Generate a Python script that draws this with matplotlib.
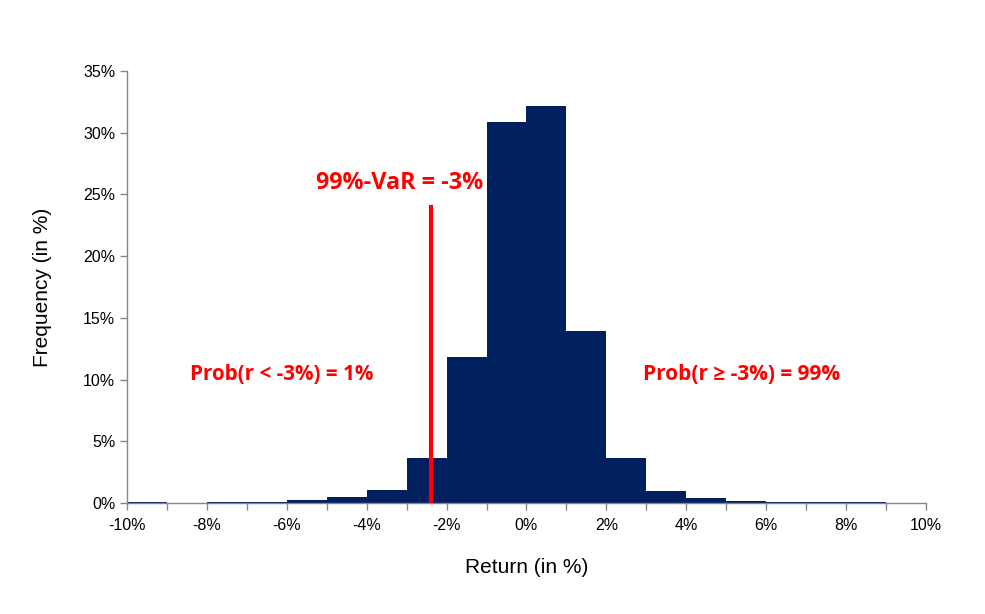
import matplotlib.pyplot as plt
from matplotlib.ticker import FuncFormatter, MultipleLocator

# histogram of returns, bins of 1 percentage point
bin_edges = list(range(-10, 11))
freq = [0.05, 0.0, 0.05, 0.05, 0.25, 0.5, 1.05, 3.65, 11.8, 30.9,
        32.2, 13.9, 3.65, 0.97, 0.4, 0.15, 0.05, 0.05, 0.05, 0.02]
var_x = -2.4
var_top = 24.0

navy = '#002060'
red = '#FF0000'
gray = '#868686'

fig = plt.figure(figsize=(9.85, 6.14), dpi=100)
ax = fig.add_axes([0.1289, 0.1808, 0.8112, 0.7036])

lefts = bin_edges[:-1]
colors = [navy] * (len(freq) - 1) + ['#BFBFBF']
ax.bar(lefts, freq, width=1.0, align='edge', color=colors, linewidth=0)

ax.plot([var_x, var_x], [0, var_top], color=red, linewidth=3, zorder=3)

ax.set_xlim(-10, 10)
ax.set_ylim(0, 35)
ax.xaxis.set_major_locator(MultipleLocator(2))
ax.xaxis.set_minor_locator(MultipleLocator(1))
ax.yaxis.set_major_locator(MultipleLocator(5))
ax.xaxis.set_major_formatter(FuncFormatter(lambda v, p: f'{v:.0f}%'))
ax.yaxis.set_major_formatter(FuncFormatter(lambda v, p: f'{v:.0f}%'))

for s in ['top', 'right']:
    ax.spines[s].set_visible(False)
for s in ['left', 'bottom']:
    ax.spines[s].set_color(gray)
    ax.spines[s].set_linewidth(1)

ax.tick_params(which='both', direction='out', color=gray, length=5, width=1)
ax.tick_params(axis='x', which='major', pad=6)
for lab in ax.get_xticklabels() + ax.get_yticklabels():
    lab.set_fontfamily('Liberation Sans')
    lab.set_fontsize(11.5)

ax.set_xlabel('Return (in %)', fontsize=15, family='Liberation Sans', labelpad=18)
ax.set_ylabel('Frequency (in %)', fontsize=15, family='Liberation Sans', labelpad=22)

ax.text(-3.17, 25.9, '99%-VaR = -3%', color=red, fontsize=16.8, fontweight='bold',
        family='Open Sans', ha='center', va='center')
ax.text(-6.12, 10.45, 'Prob(r < -3%) = 1%', color=red, fontsize=14.9, fontweight='bold',
        family='Open Sans', ha='center', va='center')
ax.text(5.39, 10.45, 'Prob(r \u2265 -3%) = 99%', color=red, fontsize=15, fontweight='bold',
        family=['Open Sans', 'DejaVu Sans'], ha='center', va='center')

fig.savefig('out.png', dpi=100)
